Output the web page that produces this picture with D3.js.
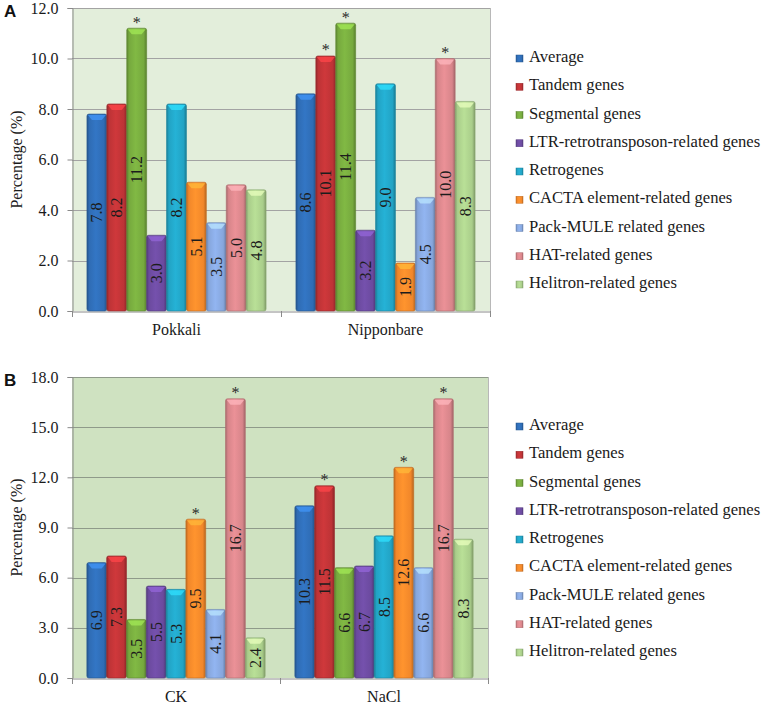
<!DOCTYPE html>
<html>
<head>
<meta charset="utf-8">
<script src="https://cdn.jsdelivr.net/npm/d3@7"></script>
<style>
  html, body { margin: 0; padding: 0; background: #ffffff; }
  svg { display: block; }
</style>
</head>
<body>
<svg id="chart" width="762" height="704"></svg>
<script>
// ---------- data ----------
const seriesNames = [
  "Average", "Tandem genes", "Segmental genes",
  "LTR-retrotransposon-related genes", "Retrogenes",
  "CACTA element-related genes", "Pack-MULE related genes",
  "HAT-related genes", "Helitron-related genes"
];
const categoriesA = ["Pokkali", "Nipponbare"];
const valuesPokkali    = [7.8, 8.2, 11.2, 3.0, 8.2, 5.1, 3.5, 5.0, 4.8];
const valuesNipponbare = [8.6, 10.1, 11.4, 3.2, 9.0, 1.9, 4.5, 10.0, 8.3];
const starsPokkali     = [0, 0, 1, 0, 0, 0, 0, 0, 0];
const starsNipponbare  = [0, 1, 1, 0, 0, 0, 0, 1, 0];
const ticksA = [0, 2, 4, 6, 8, 10, 12];

const categoriesB = ["CK", "NaCl"];
const valuesCK   = [6.9, 7.3, 3.5, 5.5, 5.3, 9.5, 4.1, 16.7, 2.4];
const valuesNaCl = [10.3, 11.5, 6.6, 6.7, 8.5, 12.6, 6.6, 16.7, 8.3];
const starsCK    = [0, 0, 0, 0, 0, 1, 0, 1, 0];
const starsNaCl  = [0, 1, 0, 0, 0, 1, 0, 1, 0];
const ticksB = [0, 3, 6, 9, 12, 15, 18];

const yAxisTitle = "Percentage (%)";

// ---------- styles ----------
const SERIF = "'Liberation Serif', 'Times New Roman', serif";
const SANS = "'Liberation Sans', Arial, sans-serif";
const seriesColors = ["#2f6cb4", "#bd3336", "#76a93e", "#6b4a9e", "#22a3c4",
                      "#f1872a", "#86a6dc", "#d7858a", "#a9cd8a"];

const svg = d3.select("#chart");
const defs = svg.append("defs");
seriesColors.forEach((c, i) => {
  const base = d3.color(c);
  const g = defs.append("linearGradient").attr("id", "grad" + i)
    .attr("x1", "0%").attr("x2", "100%").attr("y1", "0%").attr("y2", "0%");
  g.append("stop").attr("offset", "0%").attr("stop-color", base.darker(0.7));
  g.append("stop").attr("offset", "12%").attr("stop-color", base);
  g.append("stop").attr("offset", "45%").attr("stop-color", base.brighter(0.25));
  g.append("stop").attr("offset", "85%").attr("stop-color", base);
  g.append("stop").attr("offset", "100%").attr("stop-color", base.darker(0.8));
});

function drawPanel(cfg) {
  const { top, bottom, left, right, ticks, categories, values, stars, bg, grid, letter, letterY, legendY } = cfg;
  const g = svg.append("g");
  const y = d3.scaleLinear().domain([0, d3.max(ticks)]).range([bottom, top]);
  const x0 = d3.scaleBand().domain(categories).range([left, right]).padding(0);
  const x1 = d3.scaleBand().domain(d3.range(seriesNames.length))
    .range([0, x0.bandwidth()]).paddingInner(0).paddingOuter(0.75);

  // plot background
  g.append("rect").attr("x", left).attr("y", top)
    .attr("width", right - left).attr("height", bottom - top).attr("fill", bg);

  // gridlines
  g.selectAll(".grid").data(ticks.filter(t => t > 0)).join("line")
    .attr("x1", left).attr("x2", right)
    .attr("y1", d => Math.round(y(d)) + 0.5).attr("y2", d => Math.round(y(d)) + 0.5)
    .attr("stroke", grid).attr("stroke-width", 1);

  // right border
  g.append("line").attr("x1", right + 0.5).attr("x2", right + 0.5)
    .attr("y1", top).attr("y2", bottom).attr("stroke", "#b8b8b8");

  // y axis
  const yAxis = d3.axisLeft(y).tickValues(ticks).tickFormat(d3.format(".1f"))
    .tickSize(5).tickPadding(9);
  const ya = g.append("g").attr("transform", `translate(${left + 0.5},0)`).call(yAxis);
  ya.select(".domain").attr("stroke", "#8a8a8a");
  ya.selectAll(".tick line").attr("stroke", "#8a8a8a");
  ya.selectAll("text").style("font-size", "16px").attr("fill", "#1a1a1a")
    .style("font-family", SERIF);

  // x axis
  const xAxis = d3.axisBottom(x0).tickSize(0).tickPadding(12);
  const xa = g.append("g").attr("transform", `translate(0,${bottom + 0.5})`).call(xAxis);
  xa.select(".domain").attr("stroke", "#8a8a8a");
  xa.selectAll("text").style("font-size", "16px").attr("fill", "#1a1a1a")
    .style("font-family", SERIF);
  // category separators
  const seps = [left, ...categories.map(c => x0(c) + x0.bandwidth())];
  g.selectAll(".sep").data(seps).join("line")
    .attr("x1", d => Math.round(d) + 0.5).attr("x2", d => Math.round(d) + 0.5)
    .attr("y1", bottom).attr("y2", bottom + 6).attr("stroke", "#8a8a8a");

  // bars
  categories.forEach((cat, ci) => {
    const vals = values[ci];
    const st = stars[ci];
    const bg2 = g.append("g").attr("transform", `translate(${x0(cat)},0)`);
    vals.forEach((v, i) => {
      const bx = x1(i), bw = x1.bandwidth(), by = y(v), bh = bottom - y(v);
      const base = d3.color(seriesColors[i]);
      bg2.append("rect").attr("x", bx).attr("y", by).attr("width", bw).attr("height", bh)
        .attr("rx", 2).attr("fill", `url(#grad${i})`)
        .attr("stroke", base.darker(0.6)).attr("stroke-width", 0.6);
      // top bevel
      bg2.append("path")
        .attr("d", `M${bx + 1},${by + 1}L${bx + bw - 1},${by + 1}L${bx + bw - 5},${by + 6}L${bx + 5},${by + 6}Z`)
        .attr("fill", base.brighter(0.9)).attr("opacity", 0.75);
      // value label
      bg2.append("text")
        .attr("transform", `translate(${bx + bw / 2},${(by + bottom) / 2}) rotate(-90)`)
        .attr("text-anchor", "middle").attr("dy", "0.35em")
        .style("font-size", "16px").style("font-family", SERIF).attr("fill", "#1c1c1c")
        .text(d3.format(".1f")(v));
      if (st[i]) {
        bg2.append("text")
          .attr("x", bx + bw / 2).attr("y", by - 0.5)
          .attr("text-anchor", "middle").style("font-size", "16px")
          .style("font-family", SERIF).attr("fill", "#2a2a2a")
          .text("*");
      }
    });
  });

  // y title
  g.append("text")
    .attr("transform", `translate(16,${(top + bottom) / 2}) rotate(-90)`)
    .attr("text-anchor", "middle").attr("dy", "0.35em")
    .style("font-size", "16px").style("font-family", SERIF)
    .attr("fill", "#1a1a1a").text(yAxisTitle);

  // panel letter
  g.append("text").attr("x", 4).attr("y", letterY)
    .style("font-family", SANS).style("font-weight", "bold").style("font-size", "17px")
    .attr("fill", "#111").text(letter);

  // legend
  const lg = g.append("g");
  seriesNames.forEach((name, i) => {
    const ly = legendY + i * 28.25;
    const base = d3.color(seriesColors[i]);
    lg.append("rect").attr("x", 516).attr("y", ly - 7).attr("width", 7).attr("height", 7)
      .attr("fill", `url(#grad${i})`).attr("stroke", base.darker(0.6)).attr("stroke-width", 0.5);
    lg.append("text").attr("x", 529).attr("y", ly)
      .style("font-size", "16.6px").style("font-family", SERIF)
      .attr("fill", "#1a1a1a").text(name);
  });
}

drawPanel({
  top: 8, bottom: 311, left: 72, right: 490,
  ticks: ticksA, categories: categoriesA,
  values: [valuesPokkali, valuesNipponbare], stars: [starsPokkali, starsNipponbare],
  bg: "#e3eedb", grid: "#a3a3a3", letter: "A", letterY: 17, legendY: 62
});
drawPanel({
  top: 377, bottom: 678, left: 72, right: 488,
  ticks: ticksB, categories: categoriesB,
  values: [valuesCK, valuesNaCl], stars: [starsCK, starsNaCl],
  bg: "#cfe2c1", grid: "#8f9a8a", letter: "B", letterY: 386, legendY: 430
});
</script>
</body>
</html>
